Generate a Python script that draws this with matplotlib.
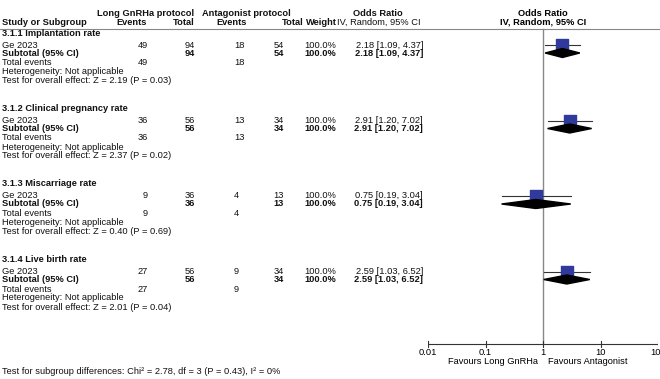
import matplotlib
matplotlib.use("Agg")
import matplotlib.pyplot as plt

# data
subgroups    = ["3.1.1 Implantation rate", "3.1.2 Clinical pregnancy rate",
                "3.1.3 Miscarriage rate", "3.1.4 Live birth rate"]
study_name   = "Ge 2023"
long_events  = [49, 36, 9, 27]
long_total   = [94, 56, 36, 56]
antag_events = [18, 13, 4, 9]
antag_total  = [54, 34, 13, 34]
weights      = [100.0, 100.0, 100.0, 100.0]
or_est       = [2.18, 2.91, 0.75, 2.59]
ci_low       = [1.09, 1.20, 0.19, 1.03]
ci_high      = [4.37, 7.02, 3.04, 6.52]
z_vals       = [2.19, 2.37, 0.40, 2.01]
p_vals       = [0.03, 0.02, 0.69, 0.04]
axis_ticks   = [0.01, 0.1, 1, 10, 100]
tick_labels  = ["0.01", "0.1", "1", "10", "100"]
subgroup_test = "Test for subgroup differences: Chi\u00b2 = 2.78, df = 3 (P = 0.43), I\u00b2 = 0%"

W, H = 660, 379
FS = 6.7
plt.rcParams["font.family"] = ["Liberation Sans", "DejaVu Sans"]

fig = plt.figure(figsize=(W / 100, H / 100), dpi=100)
bg = fig.add_axes([0, 0, 1, 1])
bg.set_xlim(0, W)
bg.set_ylim(H, 0)
bg.axis("off")

# forest panel: log x, pixel y
fp = fig.add_axes([428 / W, 0, 230 / W, 1])
fp.set_xscale("log")
fp.set_xlim(0.01, 100)
fp.set_ylim(H, 0)
fp.axis("off")


def txt(x, y, s, ha="left", bold=False):
    bg.text(x, y, s, ha=ha, va="center", fontsize=FS,
            fontweight="bold" if bold else "normal", color="#111111")


# headers
txt(146, 13, "Long GnRHa protocol", ha="center", bold=True)
txt(246, 13, "Antagonist protocol", ha="center", bold=True)
txt(378, 13, "Odds Ratio", ha="center", bold=True)
txt(2, 22.5, "Study or Subgroup", bold=True)
txt(132, 22.5, "Events", ha="center", bold=True)
txt(195, 22.5, "Total", ha="right", bold=True)
txt(232, 22.5, "Events", ha="center", bold=True)
txt(304, 22.5, "Total", ha="right", bold=True)
txt(337, 22.5, "Weight", ha="right", bold=True)
txt(379, 22.5, "IV, Random, 95% CI", ha="center")
fp.text(1, 13, "Odds Ratio", ha="center", va="center", fontsize=FS, fontweight="bold")
fp.text(1, 22.5, "IV, Random, 95% CI", ha="center", va="center", fontsize=FS, fontweight="bold")
bg.plot([0, W], [28.5, 28.5], color="#888888", lw=0.8)

for i, name in enumerate(subgroups):
    y0 = 33 + i * 75.5
    ys, yt = y0 + 12, y0 + 20
    ci_txt = f"{or_est[i]:.2f} [{ci_low[i]:.2f}, {ci_high[i]:.2f}]"

    txt(2, y0, name, bold=True)
    # study row
    txt(2, ys, study_name)
    txt(148, ys, str(long_events[i]), ha="right")
    txt(195, ys, str(long_total[i]), ha="right")
    txt(234, ys, str(antag_events[i]))
    txt(284, ys, str(antag_total[i]), ha="right")
    txt(336, ys, f"{weights[i]:.1f}%", ha="right")
    txt(423, ys, ci_txt, ha="right")
    # subtotal row
    txt(2, yt, "Subtotal (95% CI)", bold=True)
    txt(195, yt, str(long_total[i]), ha="right", bold=True)
    txt(284, yt, str(antag_total[i]), ha="right", bold=True)
    txt(336, yt, f"{weights[i]:.1f}%", ha="right", bold=True)
    txt(423, yt, ci_txt, ha="right", bold=True)
    # footer lines
    txt(2, y0 + 29.5, "Total events")
    txt(148, y0 + 29.5, str(long_events[i]), ha="right")
    txt(234, y0 + 29.5, str(antag_events[i]))
    txt(2, y0 + 38.5, "Heterogeneity: Not applicable")
    txt(2, y0 + 47.5, f"Test for overall effect: Z = {z_vals[i]:.2f} (P = {p_vals[i]:.2f})")

    # CI line + square, diamond
    fp.plot([ci_low[i], ci_high[i]], [ys, ys], color="#333333", lw=0.8, zorder=3)
    fp.scatter([or_est[i]], [ys], marker="s", s=85, color="#2f3a9c", zorder=4)
    fp.fill([ci_low[i], or_est[i], ci_high[i], or_est[i]],
            [yt, yt - 4.5, yt, yt + 4.5], color="black", zorder=4)

# line of no effect
fp.plot([1, 1], [28.5, 344], color="#888888", lw=1, zorder=2)

# x axis
fp.plot([axis_ticks[0], axis_ticks[-1]], [344, 344], color="#333333", lw=0.8)
for t, lab in zip(axis_ticks, tick_labels):
    fp.plot([t, t], [341, 347], color="#333333", lw=0.8)
    fp.text(t, 352.5, lab, ha="center", va="center", fontsize=FS)
fp.text(0.82, 362, "Favours Long GnRHa", ha="right", va="center", fontsize=FS)
fp.text(1.22, 362, "Favours Antagonist", ha="left", va="center", fontsize=FS)

txt(2, 371, subgroup_test)

fig.savefig("out.png", dpi=100)
